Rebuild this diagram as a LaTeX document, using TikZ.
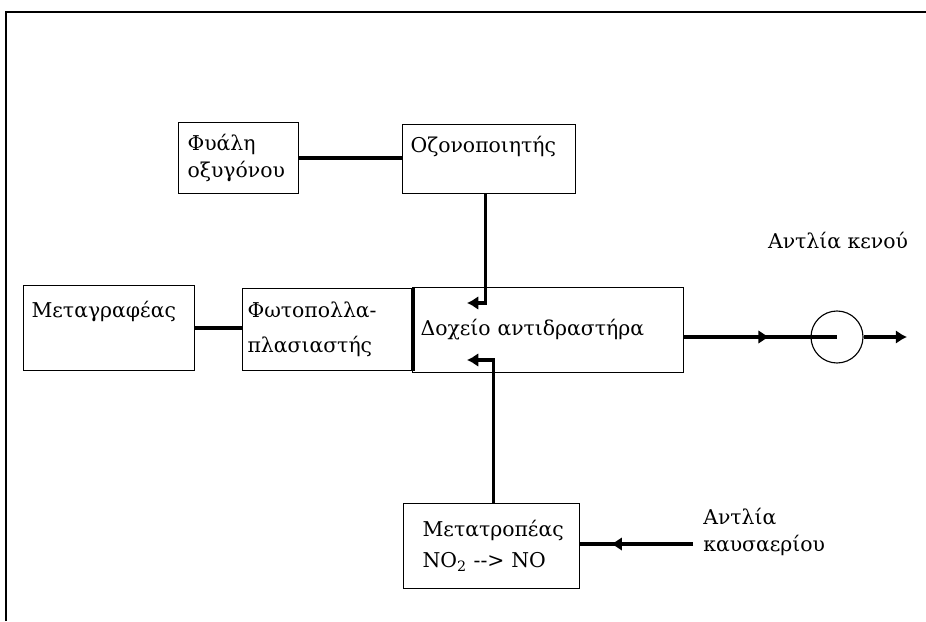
\documentclass[tikz,border=0pt]{standalone}
\usepackage{fontspec}
\setmainfont{DejaVu Serif}
\usepackage{tikz}
\usetikzlibrary{arrows.meta,decorations.markings}

\tikzset{
  box/.style={draw, line width=0.8pt, anchor=north west, align=left, inner ysep=0pt},
  conn/.style={line width=2.4pt},
  arr/.style={-{Latex[length=8pt,width=10pt]}},
  midarr/.style={postaction={decorate},
    decoration={markings, mark=at position #1 with {\arrow{Latex[length=8pt,width=10pt]}}}},
}

\begin{document}
\begin{tikzpicture}[font=\fontsize{14.5}{19}\selectfont]
\useasboundingbox (0,0) rectangle (23.15,15.525);
% frame
\draw[line width=1.8pt] (0.15,0) -- (0.15,15.225) -- (23.15,15.225);

% boxes
\node[box, minimum width=3cm, minimum height=1.775cm, text width=2.55cm, inner xsep=0.225cm] (fial) at (4.45,12.475) {Φυάλη\\οξυγόνου};
\node[box, text width=3.925cm, inner xsep=0.2cm, inner ysep=0.25cm, text height=0.45cm, text depth=0.775cm] (ozon) at (10.05,12.425) {Οζονοποιητής};
\node[box, text width=3.875cm, inner xsep=0.2cm, inner ysep=0.35cm, text height=0.45cm, text depth=0.975cm] (metag) at (0.575,8.4) {Μεταγραφέας};
\node[box, minimum width=4.25cm, minimum height=2.05cm, text width=4.0cm, inner xsep=0.125cm] (fotop) at (6.05,8.325) {Φωτοπολλα-\\[6pt]πλασιαστής};
\node[box, minimum width=6.775cm, minimum height=2.125cm, text width=6.375cm, inner xsep=0.2cm] (dox) at (10.3,8.35) {Δοχείο αντιδραστήρα};
\node[box, minimum width=4.4cm, minimum height=2.125cm, text width=3.45cm, inner xsep=0.475cm] (metat) at (10.075,2.95) {Μετατροπέας\\[3pt]NO\textsubscript{2} -{}-{}> NO};

% pump and labels
\node[draw, circle, line width=0.8pt, minimum size=1.3cm, inner sep=0pt] (pump) at (20.925,7.1) {};
\node[inner sep=0pt] (kenou) at (20.95,9.5) {Αντλία κενού};
\node[anchor=west, align=left, inner sep=0pt] (kaus) at (17.575,2.225) {Αντλία\\καυσαερίου};

\coordinate (intop) at (11.675,7.95);
\coordinate (inbot) at (11.675,6.525);
\coordinate (out) at (22.675,7.1);
\coordinate (kin) at (17.325,1.925);

% connections
\draw[conn] (fial.east) -- (fial.east -| ozon.west);
\draw[conn] (metag.east) -- (metag.east -| fotop.west);
\draw[conn] (fotop.north east) -- (fotop.south east);
\draw[conn, arr] ([xshift=-0.09cm]ozon.south) |- (intop);
\draw[conn, arr] ([xshift=0.05cm]metat.north) |- (inbot);
\draw[conn, midarr=0.56] (pump.center -| dox.east) -- (pump.center);
\draw[conn, arr] (pump.east) -- (out);
\draw[conn, midarr=0.73] (kin) -- (kin -| metat.east);
\end{tikzpicture}
\end{document}
